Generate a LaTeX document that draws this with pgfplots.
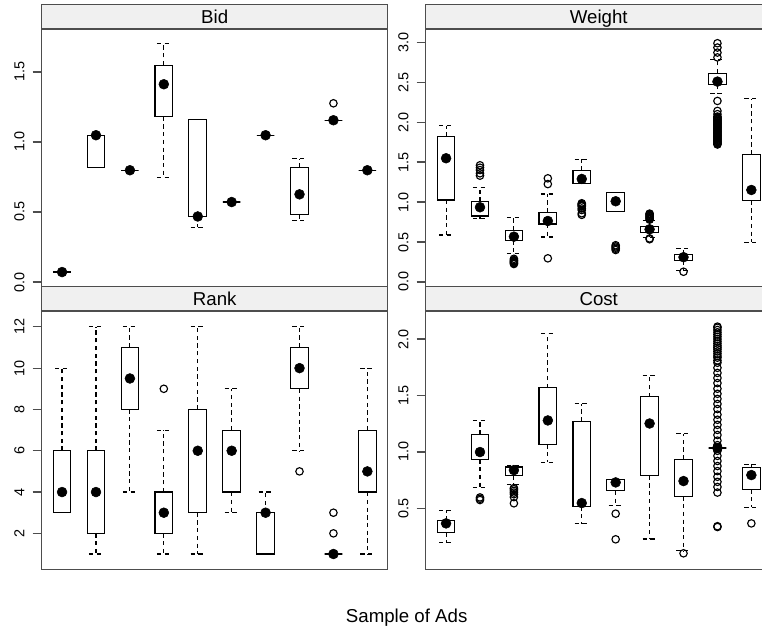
\documentclass[border=0pt]{standalone}
\usepackage{pgfplots}
\pgfplotsset{compat=1.18}
\usepgfplotslibrary{statistics}
\usepackage{fontspec}
\setmainfont{Liberation Sans}
\definecolor{panelgray}{RGB}{77,77,77}
\definecolor{stripgray}{RGB}{240,240,240}
\pgfplotsset{
  panel/.style={
    scale only axis, width=259.5pt, height=193.8pt,
    xmin=0.4, xmax=10.6, xtick=\empty,
    ytick pos=left, tick align=outside, major tick length=6.75pt,
    axis line style={line width=0.9pt, draw=panelgray},
    major tick style={line width=0.9pt, draw=panelgray},
    yticklabel style={rotate=90, anchor=south, inner sep=0pt, font=\fontsize{10.8}{12}\selectfont},
    yticklabel shift=6pt,
    /pgf/number format/assume math mode=true,
    every axis title/.style={at={(0.5,1)}, anchor=south, draw=panelgray, line width=0.9pt, fill=stripgray,
      minimum width=259.5pt, inner sep=0pt, text height=14.1pt, text depth=3.5pt,
      font=\fontsize{14}{16}\selectfont},
    boxplot/draw direction=y,
    boxplot/box extend=0.52,
    boxplot/every median/.style={draw=none},
    boxplot/every whisker/.style={dash pattern=on 3.2pt off 2.6pt},
  },
  dec/.style={yticklabel style={/pgf/number format/.cd, fixed, fixed zerofill, precision=1}},
  bx/.style={black, line width=0.85pt, mark=o, mark size=2.8pt, mark options={solid, line width=0.85pt}},
  med/.style={black, only marks, mark=*, mark size=3.7pt},
}
\newcommand{\bxp}[6]{\addplot[bx, boxplot prepared={draw direction=y, draw position=#1, lower whisker=#2, lower quartile=#3, median=#4, upper quartile=#5, upper whisker=#6}]}
\begin{document}
\begin{tikzpicture}
% ---------------- Bid ----------------
\begin{axis}[panel, dec, at={(31.28pt,255.5pt)}, anchor=south west,
  ymin=-0.038, ymax=1.807, ytick={0,0.5,1,1.5}, title={Bid}]
\bxp{1}{0.071}{0.071}{0.071}{0.071}{0.071} coordinates {};
\bxp{2}{0.817}{0.817}{1.045}{1.045}{1.045} coordinates {};
\bxp{3}{0.798}{0.798}{0.798}{0.798}{0.798} coordinates {};
\bxp{4}{0.748}{1.181}{1.412}{1.548}{1.700} coordinates {};
\bxp{5}{0.390}{0.468}{0.468}{1.162}{1.162} coordinates {};
\bxp{6}{0.571}{0.571}{0.571}{0.571}{0.571} coordinates {};
\bxp{7}{1.048}{1.048}{1.048}{1.048}{1.048} coordinates {};
\bxp{8}{0.438}{0.479}{0.626}{0.819}{0.881} coordinates {};
\bxp{9}{1.155}{1.155}{1.155}{1.155}{1.155} coordinates {(9,1.276)};
\bxp{10}{0.798}{0.798}{0.798}{0.798}{0.798} coordinates {};
\addplot[med] coordinates {(1,0.071) (2,1.048) (3,0.798) (4,1.412) (5,0.468) (6,0.571) (7,1.048) (8,0.626) (9,1.155) (10,0.798)};
\end{axis}
% ---------------- Weight ----------------
\begin{axis}[panel, dec, at={(319.28pt,255.5pt)}, anchor=south west,
  ymin=-0.067, ymax=3.166, ytick={0,0.5,1,1.5,2,2.5,3}, title={Weight}]
\bxp{1}{0.588}{1.026}{1.548}{1.819}{1.957} coordinates {};
\bxp{2}{0.793}{0.826}{0.935}{1.005}{1.181} coordinates {(2,1.33) (2,1.36) (2,1.40) (2,1.43) (2,1.46)};
\bxp{3}{0.359}{0.521}{0.567}{0.647}{0.809} coordinates {(3,0.225) (3,0.235) (3,0.245) (3,0.255) (3,0.265) (3,0.275) (3,0.29)};
\bxp{4}{0.563}{0.726}{0.763}{0.872}{1.101} coordinates {(4,1.297) (4,1.225) (4,0.296)};
\bxp{5}{1.235}{1.235}{1.289}{1.398}{1.535} coordinates {(5,0.985) (5,0.975) (5,0.965) (5,0.955) (5,0.945) (5,0.92) (5,0.90) (5,0.86) (5,0.84)};
\bxp{6}{0.884}{0.884}{1.010}{1.122}{1.122} coordinates {(6,0.46) (6,0.445) (6,0.43) (6,0.415) (6,0.40)};
\bxp{7}{0.559}{0.617}{0.659}{0.693}{0.770} coordinates {(7,0.78) (7,0.79) (7,0.80) (7,0.81) (7,0.82) (7,0.83) (7,0.84) (7,0.85) (7,0.855) (7,0.535) (7,0.545)};
\bxp{8}{0.140}{0.266}{0.310}{0.346}{0.421} coordinates {(8,0.128)};
\bxp{9}{2.353}{2.466}{2.507}{2.612}{2.780} coordinates {(9,2.987) (9,2.933) (9,2.870) (9,2.810) (9,2.265) (9,2.140) (9,2.100)
  (9,2.07) (9,2.06) (9,2.05) (9,2.04) (9,2.03) (9,2.02) (9,2.01) (9,2.00) (9,1.99) (9,1.98) (9,1.97) (9,1.96) (9,1.95) (9,1.94) (9,1.93) (9,1.92) (9,1.91) (9,1.90) (9,1.89) (9,1.88) (9,1.87) (9,1.86) (9,1.85) (9,1.84) (9,1.83) (9,1.82) (9,1.81) (9,1.80) (9,1.79) (9,1.78) (9,1.77) (9,1.76) (9,1.75) (9,1.74) (9,1.73) (9,1.72)};
\bxp{10}{0.496}{1.018}{1.151}{1.598}{2.295} coordinates {};
\addplot[med] coordinates {(1,1.548) (2,0.935) (3,0.567) (4,0.763) (5,1.289) (6,1.010) (7,0.659) (8,0.310) (9,2.507) (10,1.151)};
\end{axis}
% ---------------- Rank ----------------
\begin{axis}[panel, at={(31.28pt,44.0pt)}, anchor=south west,
  ymin=0.258, ymax=12.77, ytick={2,4,6,8,10,12}, title={Rank}]
\bxp{1}{3}{3}{4}{6}{10} coordinates {};
\bxp{2}{1}{2}{4}{6}{12} coordinates {};
\bxp{3}{4}{8}{9.5}{11}{12} coordinates {};
\bxp{4}{1}{2}{3}{4}{7} coordinates {(4,9)};
\bxp{5}{1}{3}{6}{8}{12} coordinates {};
\bxp{6}{3}{4}{6}{7}{9} coordinates {};
\bxp{7}{1}{1}{3}{3}{4} coordinates {};
\bxp{8}{6}{9}{10}{11}{12} coordinates {(8,5)};
\bxp{9}{1}{1}{1}{1}{1} coordinates {(9,2) (9,3)};
\bxp{10}{1}{4}{5}{7}{10} coordinates {};
\addplot[med] coordinates {(1,4) (2,4) (3,9.5) (4,3) (5,6) (6,6) (7,3) (8,10) (9,1) (10,5)};
\end{axis}
% ---------------- Cost ----------------
\begin{axis}[panel, dec, at={(319.28pt,44.0pt)}, anchor=south west,
  ymin=-0.040, ymax=2.249, ytick={0.5,1,1.5,2}, title={Cost}]
\bxp{1}{0.196}{0.288}{0.367}{0.391}{0.485} coordinates {};
\bxp{2}{0.686}{0.934}{0.999}{1.155}{1.276} coordinates {(2,0.597) (2,0.585) (2,0.574)};
\bxp{3}{0.709}{0.792}{0.839}{0.866}{0.880} coordinates {(3,0.68) (3,0.67) (3,0.655) (3,0.64) (3,0.625) (3,0.60) (3,0.545)};
\bxp{4}{0.910}{1.066}{1.279}{1.568}{2.046} coordinates {};
\bxp{5}{0.364}{0.518}{0.547}{1.270}{1.429} coordinates {};
\bxp{6}{0.527}{0.656}{0.730}{0.757}{0.757} coordinates {(6,0.453) (6,0.226)};
\bxp{7}{0.229}{0.789}{1.252}{1.488}{1.677} coordinates {};
\bxp{8}{0.125}{0.606}{0.742}{0.934}{1.161} coordinates {(8,0.102)};
\bxp{9}{1.035}{1.035}{1.035}{1.035}{1.035} coordinates {(9,0.335) (9,0.342)
  (9,0.64) (9,0.69) (9,0.735) (9,0.78) (9,0.83) (9,0.875) (9,0.92) (9,0.965) (9,1.01) (9,1.06) (9,1.10) (9,1.15) (9,1.195) (9,1.24) (9,1.285) (9,1.33) (9,1.38) (9,1.425) (9,1.47) (9,1.515) (9,1.56) (9,1.61) (9,1.655) (9,1.70) (9,1.745) (9,1.79) (9,1.81) (9,1.835) (9,1.85) (9,1.87) (9,1.89) (9,1.91) (9,1.925) (9,1.94) (9,1.96) (9,1.98) (9,2.00) (9,2.02) (9,2.04) (9,2.06) (9,2.08) (9,2.10) (9,2.11)};
\bxp{10}{0.509}{0.668}{0.795}{0.860}{0.892} coordinates {(10,0.367)};
\addplot[med] coordinates {(1,0.367) (2,0.999) (3,0.839) (4,1.279) (5,0.547) (6,0.730) (7,1.252) (8,0.742) (9,1.035) (10,0.795)};
\end{axis}
\node[anchor=base, font=\fontsize{14}{16}\selectfont] at (305pt,4.1pt) {Sample of Ads};
\pgfresetboundingbox
\useasboundingbox (0,0) rectangle (571.5pt,471pt);
\end{tikzpicture}
\end{document}
